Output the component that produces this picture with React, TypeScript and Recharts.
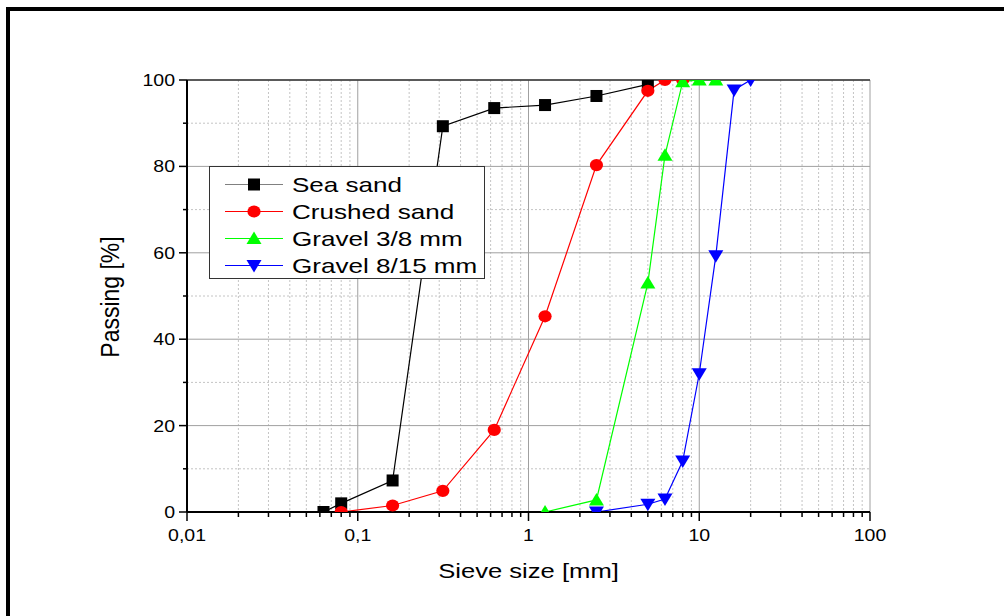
import {
  CartesianGrid,
  Label,
  Legend,
  Line,
  LineChart,
  ReferenceLine,
  XAxis,
  YAxis,
} from "recharts";

const FONT = '"Liberation Sans", Arial, sans-serif';
const STRETCH = 1.22; // source picture text is wider than plain Arial

// sieve sizes [mm] and passing [%] per material
const SEA_SIZE = [0.063, 0.08, 0.16, 0.315, 0.63, 1.25, 2.5, 5];
const SEA_PASS = [0, 2, 7.3, 89.3, 93.5, 94.2, 96.3, 99];

const CRUSHED_SIZE = [0.08, 0.16, 0.315, 0.63, 1.25, 2.5, 5, 6.3, 8];
const CRUSHED_PASS = [0, 1.5, 4.9, 19, 45.3, 80.3, 97.5, 100, 100];

const G38_SIZE = [1.25, 2.5, 5, 6.3, 8, 10, 12.5];
const G38_PASS = [0, 2.8, 53, 82.6, 99.6, 100, 100];

const G815_SIZE = [2.5, 5, 6.3, 8, 10, 12.5, 16, 20];
const G815_PASS = [0, 1.8, 3, 11.8, 32, 59.3, 97.7, 100];

const X_MAJOR = [0.01, 0.1, 1, 10, 100];
const X_MINOR = [
  0.02, 0.03, 0.04, 0.05, 0.06, 0.07, 0.08, 0.09,
  0.2, 0.3, 0.4, 0.5, 0.6, 0.7, 0.8, 0.9,
  2, 3, 4, 5, 6, 7, 8, 9,
  20, 30, 40, 50, 60, 70, 80, 90,
];
const Y_MAJOR = [0, 20, 40, 60, 80, 100];
const Y_MINOR = [10, 30, 50, 70, 90];

const rows = (sizes: number[], pass: number[]) =>
  sizes.map((d, i) => ({ d, p: pass[i] }));

const SERIES = [
  { name: "Sea sand", color: "#000000", legendLine: "#808080", shape: "square", data: rows(SEA_SIZE, SEA_PASS) },
  { name: "Crushed sand", color: "#ff0000", legendLine: "#ff0000", shape: "circle", data: rows(CRUSHED_SIZE, CRUSHED_PASS) },
  { name: "Gravel 3/8 mm", color: "#00ff00", legendLine: "#00ff00", shape: "up", data: rows(G38_SIZE, G38_PASS) },
  { name: "Gravel 8/15 mm", color: "#0000ff", legendLine: "#0000ff", shape: "down", data: rows(G815_SIZE, G815_PASS) },
];

function Marker({ shape, cx, cy, color }: { shape: string; cx: number; cy: number; color: string }) {
  if (shape === "square") return <rect x={cx - 6} y={cy - 6} width={12} height={12} fill={color} />;
  if (shape === "circle") return <ellipse cx={cx} cy={cy} rx={6.6} ry={6.1} fill={color} />;
  if (shape === "up")
    return <polygon points={`${cx},${cy - 7} ${cx - 7.5},${cy + 5.5} ${cx + 7.5},${cy + 5.5}`} fill={color} />;
  return <polygon points={`${cx - 7.5},${cy - 5.5} ${cx + 7.5},${cy - 5.5} ${cx},${cy + 7}`} fill={color} />;
}

const fmt = (v: number) => String(v).replace(".", ",");

function WideText({ x, y, anchor, size, children }: { x: number; y: number; anchor: string; size: number; children: any }) {
  return (
    <text
      transform={`translate(${x} ${y}) scale(${STRETCH} 1)`}
      textAnchor={anchor}
      fontSize={size}
      fontFamily={FONT}
      fill="#000"
    >
      {children}
    </text>
  );
}

function XTick(props: any) {
  const { x, y, payload } = props;
  const major = X_MAJOR.includes(payload.value);
  return (
    <g>
      <line x1={x} x2={x} y1={y} y2={y + (major ? 9 : 5)} stroke="#000" strokeWidth={1.5} />
      {major && (
        <WideText x={x} y={y + 29} anchor="middle" size={16}>
          {fmt(payload.value)}
        </WideText>
      )}
    </g>
  );
}

function YTick(props: any) {
  const { x, y, payload } = props;
  const major = Y_MAJOR.includes(payload.value);
  return (
    <g>
      <line x1={x} x2={x - (major ? 8 : 4)} y1={y} y2={y} stroke="#000" strokeWidth={1.5} />
      {major && (
        <WideText x={x - 12} y={y + 6} anchor="end" size={16}>
          {payload.value}
        </WideText>
      )}
    </g>
  );
}

function LegendBox() {
  return (
    <div
      style={{
        boxSizing: "border-box",
        width: 276,
        height: 113,
        border: "1px solid #333",
        background: "#fff",
        paddingTop: 4,
        fontFamily: FONT,
      }}
    >
      {SERIES.map((s) => (
        <div key={s.name} style={{ display: "flex", alignItems: "center", height: 27 }}>
          <svg width={80} height={27} style={{ flex: "none" }}>
            <line x1={15} x2={73} y1={13.5} y2={13.5} stroke={s.legendLine} strokeWidth={1.2} />
            <Marker shape={s.shape} cx={44} cy={13.5} color={s.color} />
          </svg>
          <span
            style={{
              display: "inline-block",
              fontSize: 21,
              color: "#000",
              marginLeft: 2,
              lineHeight: "27px",
              whiteSpace: "nowrap",
              transform: "scaleX(1.24)",
              transformOrigin: "left center",
            }}
          >
            {s.name}
          </span>
        </div>
      ))}
    </div>
  );
}

export default function App() {
  return (
    <div style={{ position: "absolute", left: 0, top: 0, width: 1004, height: 616, overflow: "hidden", background: "#fff" }}>
      <div
        style={{
          position: "absolute",
          left: 6,
          top: 7,
          width: 1010,
          height: 630,
          border: "4px solid #000",
          boxSizing: "border-box",
        }}
      />
      <div style={{ position: "absolute", left: 0, top: 0 }}>
        <LineChart width={1004} height={616} margin={{ top: 80, right: 134, left: 87, bottom: 44 }}>
          <CartesianGrid
            stroke="#c4c4c4"
            strokeDasharray="2 2"
            verticalValues={X_MINOR}
            horizontalValues={Y_MINOR}
          />
          <CartesianGrid stroke="#a0a0a0" verticalValues={X_MAJOR} horizontalValues={Y_MAJOR} />
          <XAxis
            dataKey="d"
            type="number"
            scale="log"
            domain={[0.01, 100]}
            allowDataOverflow
            ticks={[...X_MAJOR, ...X_MINOR]}
            interval={0}
            tickLine={false}
            tickSize={0}
            tickMargin={0}
            tick={<XTick />}
            height={60}
            axisLine={{ stroke: "#000", strokeWidth: 2 }}
          >
            <Label
              content={(p: any) => (
                <WideText x={p.viewBox.x + p.viewBox.width / 2} y={578} anchor="middle" size={21}>
                  Sieve size [mm]
                </WideText>
              )}
            />
          </XAxis>
          <YAxis
            type="number"
            domain={[0, 100]}
            allowDataOverflow
            ticks={[...Y_MAJOR, ...Y_MINOR]}
            interval={0}
            tickLine={false}
            tickSize={0}
            tickMargin={0}
            tick={<YTick />}
            width={100}
            axisLine={{ stroke: "#000", strokeWidth: 2 }}
          >
            <Label
              content={(p: any) => {
                const cy = p.viewBox.y + p.viewBox.height / 2 + 1;
                return (
                  <text
                    transform={`translate(119 ${cy}) scale(1.12 1) rotate(-90)`}
                    textAnchor="middle"
                    fontSize={23}
                    fontFamily={FONT}
                    fill="#000"
                  >
                    Passing [%]
                  </text>
                );
              }}
            />
          </YAxis>
          <ReferenceLine y={100} stroke="#333" strokeWidth={1.5} />
          {SERIES.map((s) => (
            <Line
              key={s.name}
              data={s.data}
              dataKey="p"
              name={s.name}
              stroke={s.color}
              strokeWidth={1.2}
              isAnimationActive={false}
              dot={(dp: any) => (
                <Marker key={`${s.name}-${dp.index}`} shape={s.shape} cx={dp.cx} cy={dp.cy} color={s.color} />
              )}
              activeDot={false}
            />
          ))}
          <Legend
            layout="vertical"
            align="center"
            verticalAlign="middle"
            wrapperStyle={{ left: 209, top: 166, width: 276, height: 113 }}
            content={() => <LegendBox />}
          />
        </LineChart>
      </div>
    </div>
  );
}
